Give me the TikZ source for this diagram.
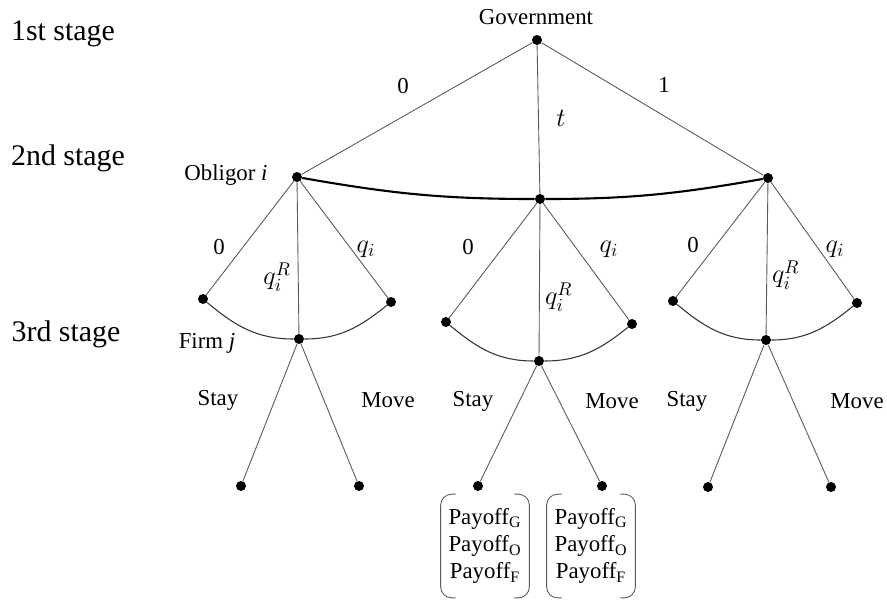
\documentclass[tikz,border=0pt]{standalone}
\usepackage{fix-cm}
\usepackage{fontspec}
\setmainfont{Liberation Serif}
\usetikzlibrary{positioning}

\tikzset{
  dot/.style={circle, fill, inner sep=0pt, minimum size=0.2cm},
  branch/.style={black!65, line width=0.5pt},
  infoset/.style={line width=1.2pt},
  firmset/.style={black!80, line width=0.6pt},
  lbl/.style={font=\fontsize{13}{15}\selectfont, inner sep=1pt},
  mathlbl/.style={font=\fontsize{15}{17}\selectfont, inner sep=1pt},
  stagelbl/.style={font=\fontsize{17}{20}\selectfont, inner sep=1pt},
  payoffbox/.style={align=center, font=\fontsize{13}{15.4}\selectfont, minimum width=1.76cm, minimum height=2.06cm, inner sep=0pt},
}

\begin{document}
\begin{tikzpicture}[x=0.02cm, y=-0.02cm]
    \useasboundingbox (0,0) rectangle (887,603);

    % stages
    \node (st1) [stagelbl] at (63,34) {1st stage};
    \node (st2) [stagelbl] at (68,158) {2nd stage};
    \node (st3) [stagelbl] at (66,334) {3rd stage};

    % government
    \node (gov) [dot] at (537,40) {};
    \node (govlbl) [lbl] at (536,17) {Government};

    % obligors
    \node (obl) [dot] at (297,177) {};
    \node (obm) [dot] at (540,199) {};
    \node (obr) [dot] at (768,178) {};
    \node (obllbl) [lbl] at (226,175) {Obligor \textit{i}};

    \draw[branch] (gov) -- (obl);
    \draw[branch] (gov) -- (obm);
    \draw[branch] (gov) -- (obr);
    \node (g0) [lbl] at (403,86) {0};
    \node (gt) [mathlbl] at (561,118) {$t$};
    \node (g1) [lbl] at (664,85) {1};
    \draw[infoset] (obl) to[out=-10,in=180] (obm) to[out=0,in=190] (obr);

    % left subtree
    \node (la) [dot] at (203,299) {};
    \node (lf) [dot] at (299,339) {};
    \node (lb) [dot] at (391,302) {};
    \draw[branch] (obl) -- (la);
    \draw[branch] (obl) -- (lf);
    \draw[branch] (obl) -- (lb);
    \draw[firmset] (la) to[out=-40,in=180] (lf) to[out=0,in=-141] (lb);
    \node (l0) [lbl] at (219,247) {0};
    \node (lr) [mathlbl, anchor=east] at (293,277) {$q_i^R$};
    \node (lq) [mathlbl] at (366,249) {$q_i$};
    \node (firmlbl) [lbl] at (207,343) {Firm \textit{j}};
    \node (ls) [dot] at (241,486) {};
    \node (lm) [dot] at (359,486) {};
    \draw[branch] (lf) -- (ls);
    \draw[branch] (lf) -- (lm);
    \node (lstay) [lbl] at (218,400) {Stay};
    \node (lmove) [lbl] at (388,400) {Move};

    % middle subtree
    \node (ma) [dot] at (446,322) {};
    \node (mf) [dot] at (539,361) {};
    \node (mb) [dot] at (632,324) {};
    \draw[branch] (obm) -- (ma);
    \draw[branch] (obm) -- (mf);
    \draw[branch] (obm) -- (mb);
    \draw[firmset] (ma) to[out=-40,in=180] (mf) to[out=0,in=-141] (mb);
    \node (m0) [lbl] at (468,247) {0};
    \node (mr) [mathlbl, anchor=west] at (543,297) {$q_i^R$};
    \node (mq) [mathlbl] at (609,249) {$q_i$};
    \node (ms) [dot] at (478,486) {};
    \node (mm) [dot] at (602,486) {};
    \draw[branch] (mf) -- (ms);
    \draw[branch] (mf) -- (mm);
    \node (mstay) [lbl] at (473,401) {Stay};
    \node (mmove) [lbl] at (612,401) {Move};

    % right subtree
    \node (ra) [dot] at (673,301) {};
    \node (rf) [dot] at (766,340) {};
    \node (rb) [dot] at (857,303) {};
    \draw[branch] (obr) -- (ra);
    \draw[branch] (obr) -- (rf);
    \draw[branch] (obr) -- (rb);
    \draw[firmset] (ra) to[out=-40,in=180] (rf) to[out=0,in=-141] (rb);
    \node (r0) [lbl] at (693,245) {0};
    \node (rr) [mathlbl, anchor=west] at (770,275) {$q_i^R$};
    \node (rq) [mathlbl] at (835,249) {$q_i$};
    \node (rs) [dot] at (708,487) {};
    \node (rm) [dot] at (831,487) {};
    \draw[branch] (rf) -- (rs);
    \draw[branch] (rf) -- (rm);
    \node (rstay) [lbl] at (687,401) {Stay};
    \node (rmove) [lbl] at (857,401) {Move};

    % payoffs
    \node (pay1) [payoffbox] at (485,546) {Payoff\textsubscript{G}\\Payoff\textsubscript{O}\\Payoff\textsubscript{F}};
    \node (pay2) [payoffbox] at (591,546) {Payoff\textsubscript{G}\\Payoff\textsubscript{O}\\Payoff\textsubscript{F}};
    \draw[branch, rounded corners=0.22cm] ([xshift=0.3cm]pay1.north west) -- (pay1.north west) -- (pay1.south west) -- ([xshift=0.3cm]pay1.south west);
    \draw[branch, rounded corners=0.22cm] ([xshift=-0.3cm]pay1.north east) -- (pay1.north east) -- (pay1.south east) -- ([xshift=-0.3cm]pay1.south east);
    \draw[branch, rounded corners=0.22cm] ([xshift=0.3cm]pay2.north west) -- (pay2.north west) -- (pay2.south west) -- ([xshift=0.3cm]pay2.south west);
    \draw[branch, rounded corners=0.22cm] ([xshift=-0.3cm]pay2.north east) -- (pay2.north east) -- (pay2.south east) -- ([xshift=-0.3cm]pay2.south east);
\end{tikzpicture}
\end{document}
